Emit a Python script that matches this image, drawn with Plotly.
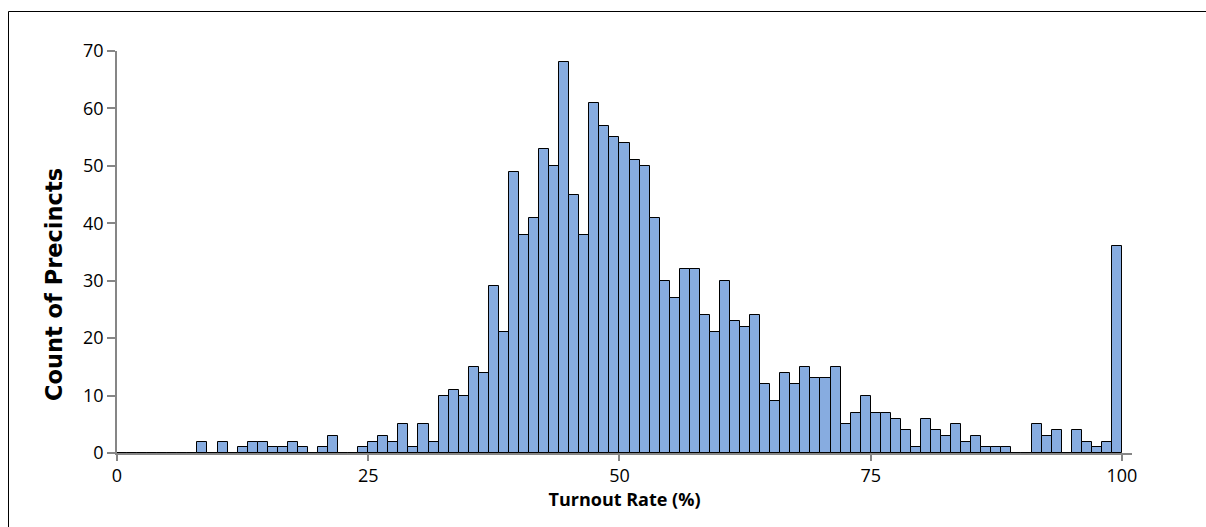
import plotly.graph_objects as go

# Histogram of precinct turnout rates: bin lower edge (%) and count of precincts
bin_start = list(range(0, 100))
counts = [
    0, 0, 0, 0, 0, 0, 0, 0, 2, 0,      # 0-9
    2, 0, 1, 2, 2, 1, 1, 2, 1, 0,      # 10-19
    1, 3, 0, 0, 1, 2, 3, 2, 5, 1,      # 20-29
    5, 2, 10, 11, 10, 15, 14, 29, 21, 49,  # 30-39
    38, 41, 53, 50, 68, 45, 38, 61, 57, 55,  # 40-49
    54, 51, 50, 41, 30, 27, 32, 32, 24, 21,  # 50-59
    30, 23, 22, 24, 12, 9, 14, 12, 15, 13,   # 60-69
    13, 15, 5, 7, 10, 7, 7, 6, 4, 1,         # 70-79
    6, 4, 3, 5, 2, 3, 1, 1, 1, 0,            # 80-89
    0, 5, 3, 4, 0, 4, 2, 1, 2, 36,           # 90-99
]
x_ticks = [0, 25, 50, 75, 100]
y_ticks = [0, 10, 20, 30, 40, 50, 60, 70]
x_title = "Turnout Rate (%)"
y_title = "Count of Precincts"

W, H = 1206, 527
L, R, T, B = 117, 74, 51, 74
pw, ph = W - L - R, H - T - B

fig = go.Figure()
fig.add_trace(go.Bar(
    x=[b + 0.5 for b in bin_start],
    y=counts,
    width=1,
    marker=dict(color="#87ACE0", line=dict(color="#000000", width=1)),
    hoverinfo="x+y",
))

axis_font = dict(family="Open Sans", size=18, color="#000000")

fig.update_layout(
    width=W, height=H, autosize=False,
    margin=dict(l=L, r=R, t=T, b=B, pad=0),
    paper_bgcolor="white", plot_bgcolor="white",
    showlegend=False,
    bargap=0,
    xaxis=dict(
        range=[0, 101], tickvals=x_ticks, ticktext=[str(v) for v in x_ticks],
        showgrid=False, zeroline=False,
        showline=True, linecolor="#868686", linewidth=1.5,
        ticks="outside", ticklen=6, tickcolor="#868686", tickwidth=1.5,
        tickfont=axis_font,
        title=dict(text=x_title, font=dict(family="Open Sans", size=18, color="#000000", weight="bold"), standoff=4),
        fixedrange=True,
    ),
    yaxis=dict(
        range=[0, 70], tickvals=y_ticks,
        showgrid=False, zeroline=False,
        showline=True, linecolor="#868686", linewidth=1.5,
        ticks="outside", ticklen=8, tickcolor="#868686", tickwidth=1.5,
        tickfont=axis_font,
        fixedrange=True,
    ),
    annotations=[dict(
        text=y_title, textangle=-90,
        xref="paper", yref="paper",
        x=(54 - L) / pw, y=(H - B - 285) / ph,
        xanchor="center", yanchor="middle", showarrow=False,
        font=dict(family="DejaVu Sans", size=22.5, color="#000000", weight="bold"),
    )],
    shapes=[dict(
        type="rect", xref="paper", yref="paper",
        x0=(8.5 - L) / pw, x1=(W + 20 - L) / pw,
        y0=(H - B - (H + 20)) / ph, y1=(H - B - 11.5) / ph,
        line=dict(color="#000000", width=1), fillcolor="rgba(0,0,0,0)", layer="below",
    )],
)

fig.write_html(
    "out.html",
    config={"displayModeBar": False},
    post_script="document.body.style.margin='0';document.body.style.overflow='hidden';",
)
